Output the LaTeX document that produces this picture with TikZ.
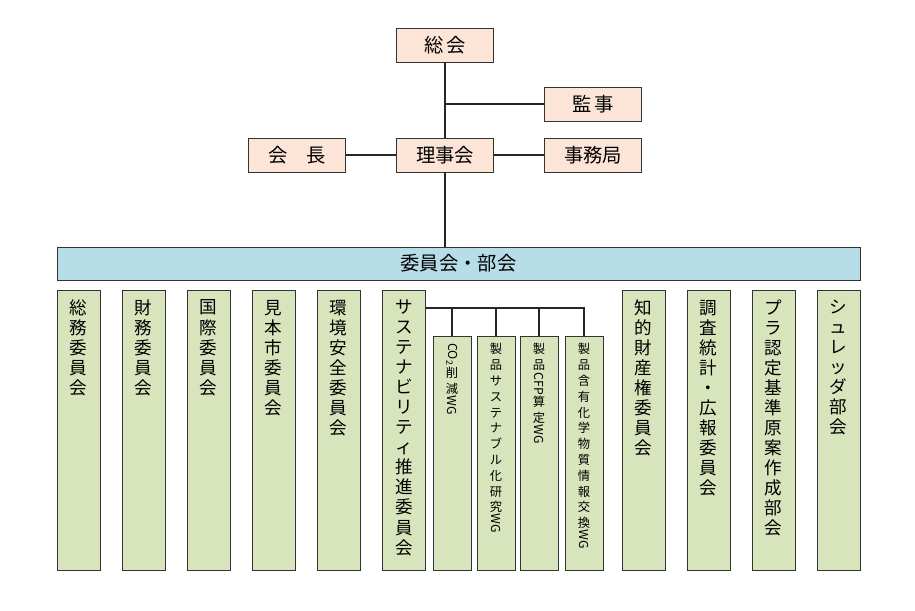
\documentclass[tikz,border=0pt]{standalone}
\usepackage{fontspec}
\setmainfont{Noto Sans CJK JP}
\definecolor{beige}{RGB}{252,228,214}
\definecolor{lblue}{RGB}{183,222,232}
\definecolor{lgreen}{RGB}{215,228,188}
\tikzset{
  top/.style={draw=black!80, fill=beige, minimum width=97*0.02cm, minimum height=34*0.02cm, font=\fontsize{11}{13}\selectfont},
  col/.style={draw=black!80, fill=lgreen, minimum width=43*0.02cm, minimum height=280*0.02cm},
  wg/.style={draw=black!80, fill=lgreen, minimum width=38*0.02cm, minimum height=234*0.02cm},
  ctext/.style={anchor=north, align=center, inner sep=0pt, font=\fontsize{10}{11.4}\selectfont},
  wtext/.style={anchor=north, align=center, inner sep=0pt, font=\fontsize{7}{9}\selectfont},
  link/.style={draw=black!85, line width=0.8pt}
}
\newcommand{\rt}[1]{\rotatebox[origin=c]{-90}{#1}}
\begin{document}
\begin{tikzpicture}[x=0.02cm,y=-0.02cm]
\useasboundingbox (0,0) rectangle (915,610);
% upper part
\node[top] (soukai) at (445,45) {総\,会};
\node[top] (kanji) at (593,104) {監\,事};
\node[top] (kaicho) at (297,155) {会\quad 長};
\node[top] (rijikai) at (445,155) {理事会};
\node[top] (jimu) at (593,155) {事務局};
\node[draw=black!80, fill=lblue, minimum width=803*0.02cm, minimum height=33*0.02cm, font=\fontsize{11}{13}\selectfont] (iinkai) at (458.5,263.5) {委員会・部会};
\coordinate (kj) at (445,104);
\draw[link] (soukai) -- (rijikai);
\draw[link] (kj) -- (kanji);
\draw[link] (kaicho) -- (rijikai);
\draw[link] (rijikai) -- (jimu);
\draw[link] (rijikai) -- (rijikai |- iinkai.north);

% committees
\node[col] (c1) at (78.5,430) {};
\node[col] (c2) at (143.5,430) {};
\node[col] (c3) at (208.5,430) {};
\node[col] (c4) at (273.5,430) {};
\node[col] (c5) at (338.5,430) {};
\node[col] (c6) at (404,430) {};
\node[col] (c7) at (643.5,430) {};
\node[col] (c8) at (708.5,430) {};
\node[col] (c9) at (773.5,430) {};
\node[col] (c10) at (838.5,430) {};
\node[ctext] (t1) at (c1.north) [yshift=-0.2cm] {総\\務\\委\\員\\会};
\node[ctext] (t2) at (c2.north) [yshift=-0.2cm] {財\\務\\委\\員\\会};
\node[ctext] (t3) at (c3.north) [yshift=-0.2cm] {国\\際\\委\\員\\会};
\node[ctext] (t4) at (c4.north) [yshift=-0.2cm] {見\\本\\市\\委\\員\\会};
\node[ctext] (t5) at (c5.north) [yshift=-0.2cm] {環\\境\\安\\全\\委\\員\\会};
\node[ctext] (t6) at (c6.north) [yshift=-0.2cm] {サ\\ス\\テ\\ナ\\ビ\\リ\\テ\\ィ\\推\\進\\委\\員\\会};
\node[ctext] (t7) at (c7.north) [yshift=-0.2cm] {知\\的\\財\\産\\権\\委\\員\\会};
\node[ctext] (t8) at (c8.north) [yshift=-0.2cm] {調\\査\\統\\計\\・\\広\\報\\委\\員\\会};
\node[ctext] (t9) at (c9.north) [yshift=-0.2cm] {プ\\ラ\\認\\定\\基\\準\\原\\案\\作\\成\\部\\会};
\node[ctext] (t10) at (c10.north) [yshift=-0.2cm] {シ\\ュ\\レ\\ッ\\ダ\\部\\会};

% working groups
\node[wg] (w1) at (452,453) {};
\node[wg] (w2) at (496,453) {};
\node[wg] (w3) at (539,453) {};
\node[wg] (w4) at (584,453) {};
\node[wtext] (u1) at (w1.north) [yshift=-0.15cm] {\rt{CO\textsubscript{2}}\\削\\減\\\rt{WG}};
\node[wtext] (u2) at (w2.north) [yshift=-0.15cm] {製\\品\\サ\\ス\\テ\\ナ\\ブ\\ル\\化\\研\\究\\\rt{WG}};
\node[wtext] (u3) at (w3.north) [yshift=-0.15cm] {製\\品\\\rt{CFP}\\算\\定\\\rt{WG}};
\node[wtext] (u4) at (w4.north) [yshift=-0.15cm] {製\\品\\含\\有\\化\\学\\物\\質\\情\\報\\交\\換\\\rt{WG}};
\coordinate (br) at (c6.east |- 0,308);
\draw[link] (br) -| (w4.north);
\draw[link] (w1.north) -- (w1.north |- br);
\draw[link] (w2.north) -- (w2.north |- br);
\draw[link] (w3.north) -- (w3.north |- br);
\end{tikzpicture}
\end{document}
